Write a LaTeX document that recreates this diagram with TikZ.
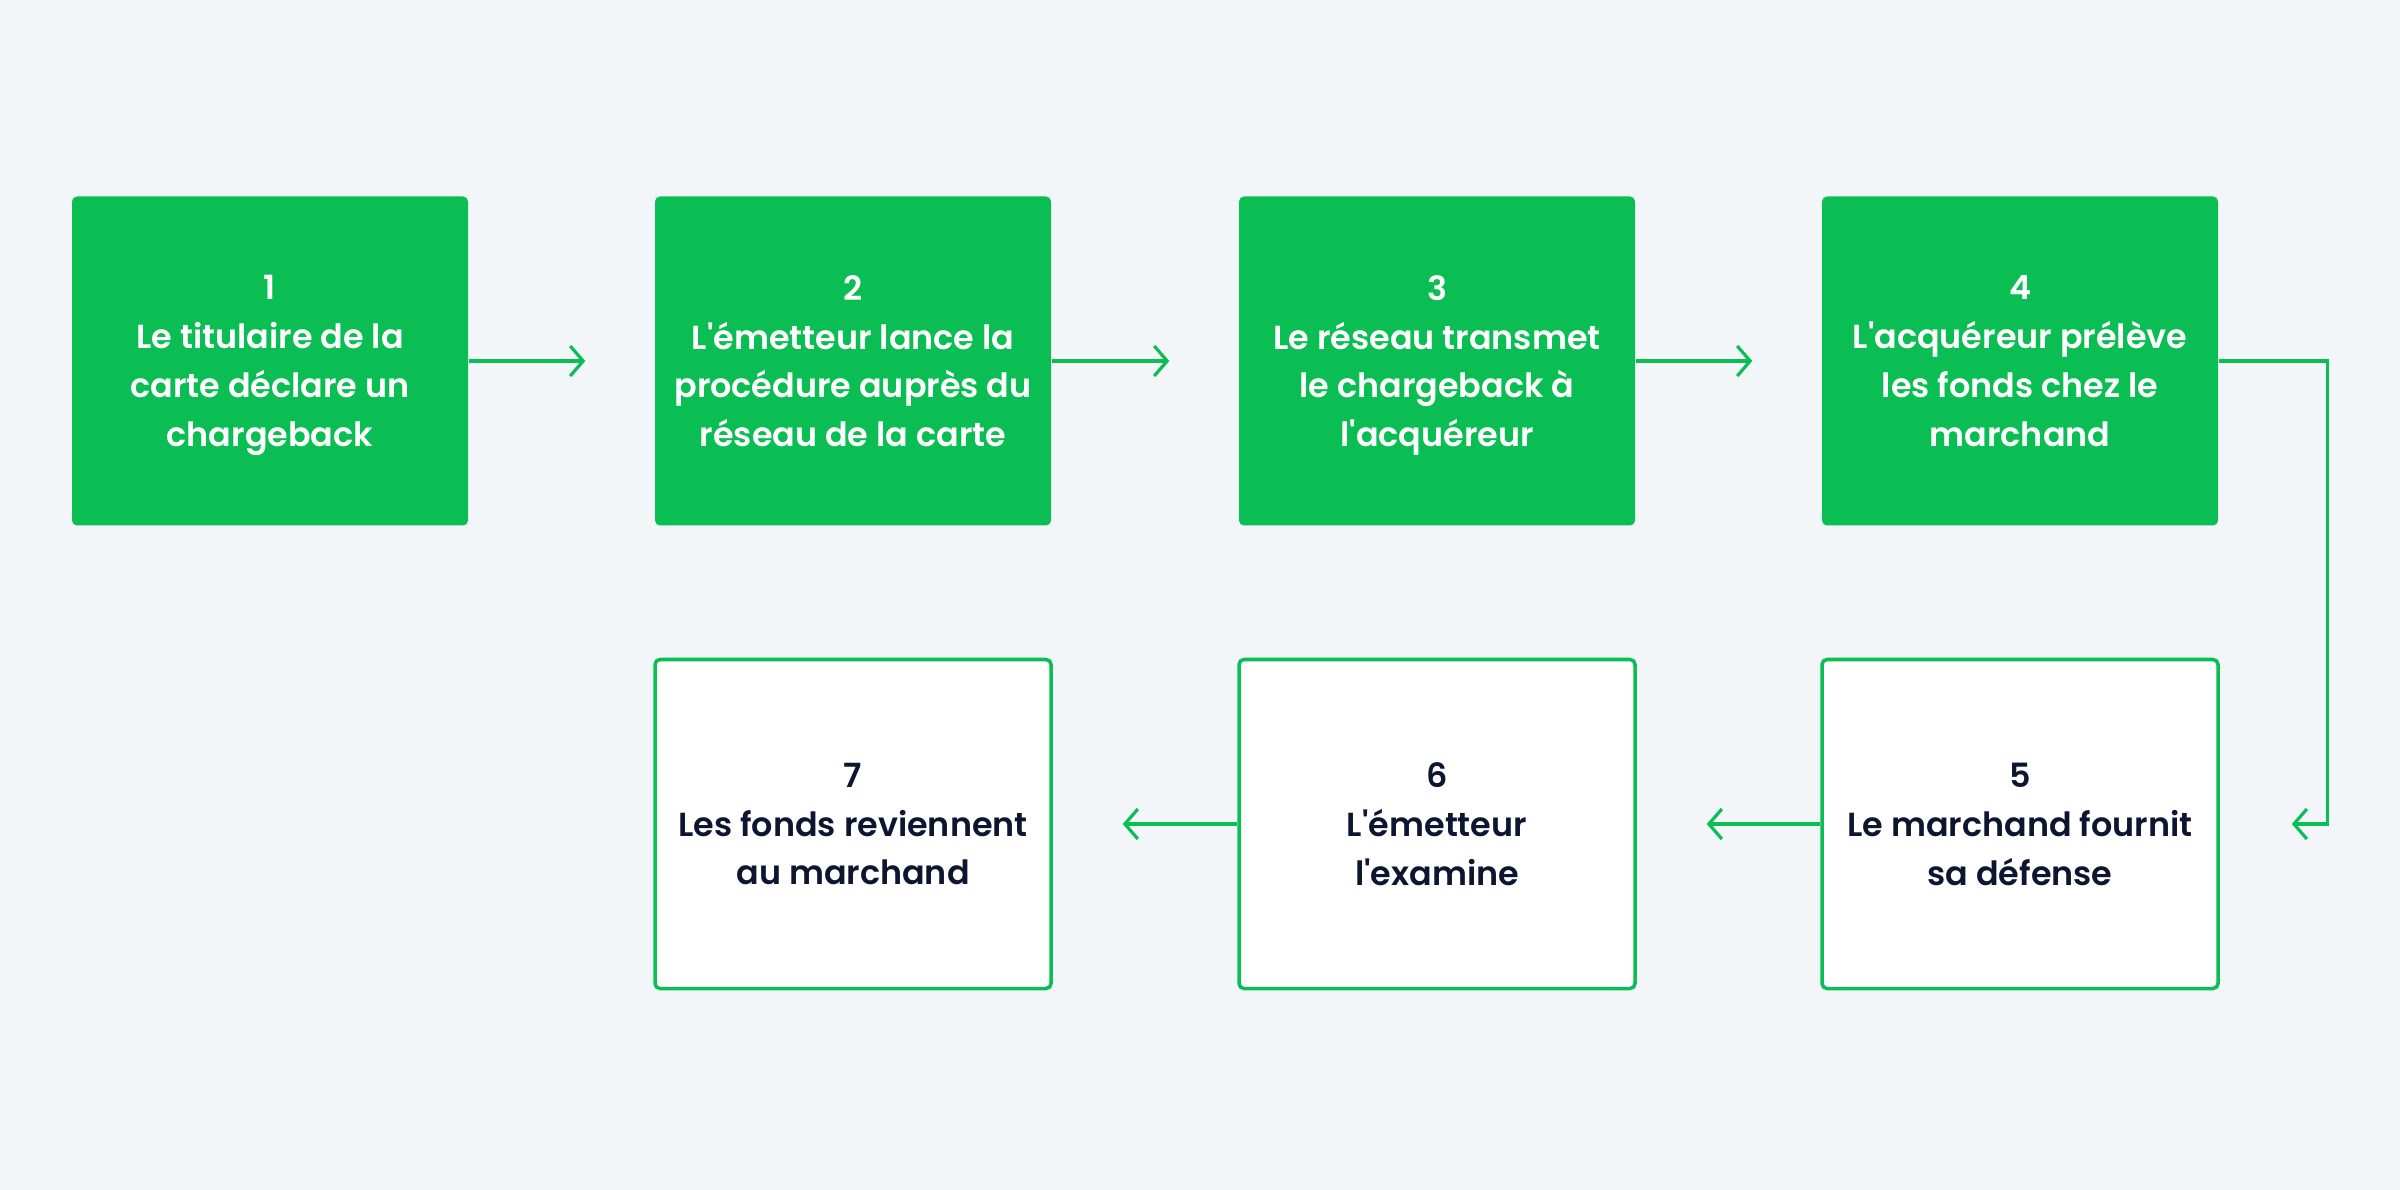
\documentclass[tikz,border=0pt]{standalone}
\usepackage{fontspec}
\setmainfont{Poppins}[BoldFont={Poppins SemiBold}]
\usetikzlibrary{arrows.meta}
\definecolor{stepgreen}{RGB}{11,190,83}
\definecolor{pagebg}{RGB}{242,246,249}
\definecolor{inkdark}{RGB}{12,22,48}
\newcommand{\apos}{\textquotesingle}
\tikzset{
  stepbox/.style={rectangle, rounded corners=0.05cm, minimum width=3.96cm,
    minimum height=3.29cm, align=center, inner sep=0pt, text depth=0pt,
    font=\fontsize{9.5}{13.9}\selectfont\bfseries},
  greenbox/.style={stepbox, fill=stepgreen, text=white},
  whitebox/.style={stepbox, fill=white, draw=stepgreen, line width=1pt, text=inkdark},
  flow/.style={draw=stepgreen, line width=0.9pt,
    -{Straight Barb[length=0.13cm, width=0.3cm, line width=0.9pt]}}
}
\begin{document}
\begin{tikzpicture}
\fill[pagebg] (0,0) rectangle (24,-11.9);
\useasboundingbox (0,0) rectangle (24,-11.9);
% top row
\node[greenbox] at (2.70,-3.61)  (b1) {1\\Le titulaire de la\\carte déclare un\\chargeback};
\node[greenbox] at (8.53,-3.61)  (b2) {2\\L\apos émetteur lance la\\procédure auprès du\\réseau de la carte};
\node[greenbox] at (14.37,-3.61) (b3) {3\\Le réseau transmet\\le chargeback à\\l\apos acquéreur};
\node[greenbox] at (20.20,-3.61) (b4) {4\\L\apos acquéreur prélève\\les fonds chez le\\marchand};
% bottom row
\node[whitebox] at (20.20,-8.24) (b5) {5\\Le marchand fournit\\sa défense};
\node[whitebox] at (14.37,-8.24) (b6) {6\\L\apos émetteur\\l\apos examine};
\node[whitebox] at (8.53,-8.24)  (b7) {7\\Les fonds reviennent\\au marchand};
\draw[flow, shorten >=0.69cm] (b1) -- (b2);
\draw[flow, shorten >=0.69cm] (b2) -- (b3);
\draw[flow, shorten >=0.69cm] (b3) -- (b4);
\draw[flow, shorten >=0.72cm] (b4.east) -- ++(1.09,0) |- (b5.east);
\draw[flow, shorten >=0.70cm] (b5) -- (b6);
\draw[flow, shorten >=0.70cm] (b6) -- (b7);
\end{tikzpicture}
\end{document}
